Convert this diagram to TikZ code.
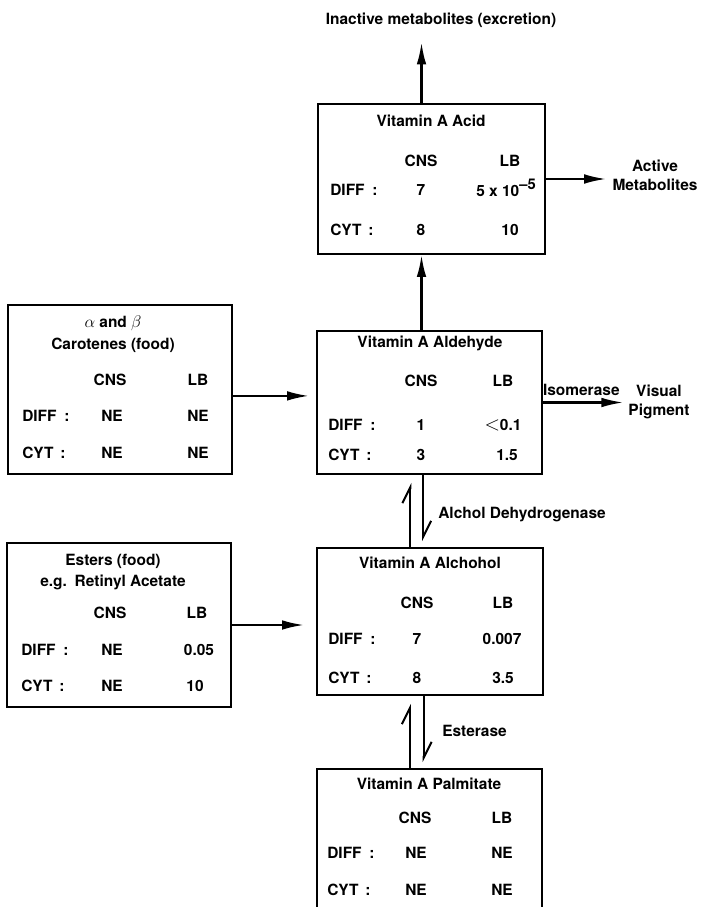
\documentclass[tikz,border=0pt]{standalone}
\usepackage{fontspec}
\setmainfont{TeX Gyre Heros}
\usetikzlibrary{arrows.meta,fit}

\begin{document}
\begin{tikzpicture}[
  x=0.025cm, y=-0.025cm,
  font=\fontsize{11}{13.5}\selectfont\bfseries,
  box/.style={draw,line width=1.3pt,inner sep=0pt},
  cell/.style={inner sep=0pt,anchor=mid},
  rowlabel/.style={inner sep=0pt,anchor=mid west},
  tag/.style={inner sep=0pt,align=center},
  flow/.style={-{Latex[length=5.5mm,width=2.4mm]},line width=1.6pt},
  equil/.style={-{Straight Barb[left,length=4mm,width=4mm]},line width=1.4pt}
]
\useasboundingbox (0,0) rectangle (700,907);

% retinoid boxes: concentrations for CNS and LB cells
\node[box,fit={(318,104)(545,254)}] (acid) {};
\node[cell] (acid-name) at (431,123) {Vitamin A Acid};
\foreach \x/\y/\txt [count=\i] in {421/163/CNS, 510/163/LB, 421/192/7,
    506/193/{5 x 10\raisebox{.9ex}{\fontsize{10.5}{10.5}\selectfont --5}}, 421/232/8, 510/232/10}
  \node[cell] (acid-\i) at (\x,\y) {\txt};
\node[rowlabel] (acid-diff) at (330,192) {DIFF\hspace{.5em}:};
\node[rowlabel] (acid-cyt) at (330,232) {CYT\hspace{.45em}:};

\node[box,fit={(317,331)(542,474)}] (aldehyde) {};
\node[cell] (aldehyde-name) at (430,344) {Vitamin A Aldehyde};
\foreach \x/\y/\txt [count=\i] in {421/383/CNS, 503/383/LB, 421/427/1,
    503/427/{{\fontsize{14}{14}\selectfont$<$}0.1}, 421/457/3, 507/457/1.5}
  \node[cell] (aldehyde-\i) at (\x,\y) {\txt};
\node[rowlabel] (aldehyde-diff) at (328,427) {DIFF\hspace{.5em}:};
\node[rowlabel] (aldehyde-cyt) at (328,457) {CYT\hspace{.45em}:};

\node[box,fit={(8,305)(232,474)}] (carotene) {};
\node[tag] (carotene-name) at (113,334)
  {{\fontsize{13}{13}\selectfont$\alpha$} and {\fontsize{13}{13}\selectfont$\beta$}\\[2pt]Carotenes (food)};
\foreach \x/\y/\txt [count=\i] in {110/382/CNS, 198/382/LB, 112/418/NE, 198/418/NE,
    112/455/NE, 198/455/NE}
  \node[cell] (carotene-\i) at (\x,\y) {\txt};
\node[rowlabel] (carotene-diff) at (22,418) {DIFF\hspace{.5em}:};
\node[rowlabel] (carotene-cyt) at (22,455) {CYT\hspace{.45em}:};

\node[box,fit={(7,543)(231,707)}] (ester) {};
\node[tag] (ester-name) at (113,572) {Esters (food)\\[1.5pt]e.g.\enspace Retinyl Acetate};
\foreach \x/\y/\txt [count=\i] in {110/615/CNS, 197/615/LB, 112/652/NE, 199/652/0.05,
    112/688/NE, 195/688/10}
  \node[cell] (ester-\i) at (\x,\y) {\txt};
\node[rowlabel] (ester-diff) at (21,652) {DIFF\hspace{.5em}:};
\node[rowlabel] (ester-cyt) at (21,688) {CYT\hspace{.45em}:};

\node[box,fit={(317,548)(543,695)}] (alcohol) {};
\node[cell] (alcohol-name) at (430,565) {Vitamin A Alchohol};
\foreach \x/\y/\txt [count=\i] in {417/605/CNS, 503/605/LB, 417/641/7, 502/641/0.007,
    417/680/8, 503/680/3.5}
  \node[cell] (alcohol-\i) at (\x,\y) {\txt};
\node[rowlabel] (alcohol-diff) at (328,641) {DIFF\hspace{.5em}:};
\node[rowlabel] (alcohol-cyt) at (328,680) {CYT\hspace{.45em}:};

% runs off the bottom edge
\node[box,fit={(317,769)(542,915)}] (palmitate) {};
\node[cell] (palmitate-name) at (429,786) {Vitamin A Palmitate};
\foreach \x/\y/\txt [count=\i] in {415/820/CNS, 502/820/LB, 416/855/NE, 502/855/NE,
    416/892/NE, 502/892/NE}
  \node[cell] (palmitate-\i) at (\x,\y) {\txt};
\node[rowlabel] (palmitate-diff) at (327,855) {DIFF\hspace{.5em}:};
\node[rowlabel] (palmitate-cyt) at (327,892) {CYT\hspace{.45em}:};

% products and enzymes
\node[tag] (excretion) at (441,20) {Inactive metabolites (excretion)};
\node[tag] (active) at (655,175) {Active\\Metabolites};
\node[tag] (visual) at (659,402) {Visual\\Pigment};
\node[tag,anchor=mid west] (adh) at (438,515) {Alchol Dehydrogenase};
\node[tag,anchor=mid west] (esterase) at (442,733) {Esterase};

% arrows
\coordinate (axis) at ([xshift=-2.5mm]acid.north);
\draw[flow,shorten >=3.7mm] (axis) -- (axis |- excretion.south);
\draw[flow] (axis |- aldehyde.north) -- (axis |- acid.south);
\draw[flow,shorten >=1.5mm] (acid.east) -- (acid.east -| active.west);
\draw[flow,shorten >=1.2mm] (aldehyde.east) -- node[tag,above=1.5mm,pos=.45] (isomerase) {Isomerase}
  (aldehyde.east -| visual.west);
\draw[flow,shorten >=1.75mm] ([yshift=-1.6mm]carotene.east) coordinate (c1) -- (c1 -| aldehyde.west);
\draw[flow,shorten >=3mm] (ester.east) -- (ester.east -| alcohol.west);

\draw[equil,shorten >=2mm] ([xshift=-4.9mm]alcohol.north) coordinate (u1) -- (u1 |- aldehyde.south);
\draw[equil,shorten >=1.5mm] ([xshift=-1.6mm]aldehyde.south) coordinate (d1) -- (d1 |- alcohol.north);
\draw[equil,shorten >=2mm] ([xshift=-4.9mm]palmitate.north) coordinate (u2) -- (u2 |- alcohol.south);
\draw[equil,shorten >=1.5mm] ([xshift=-1.6mm]alcohol.south) coordinate (d2) -- (d2 |- palmitate.north);
\end{tikzpicture}
\end{document}
